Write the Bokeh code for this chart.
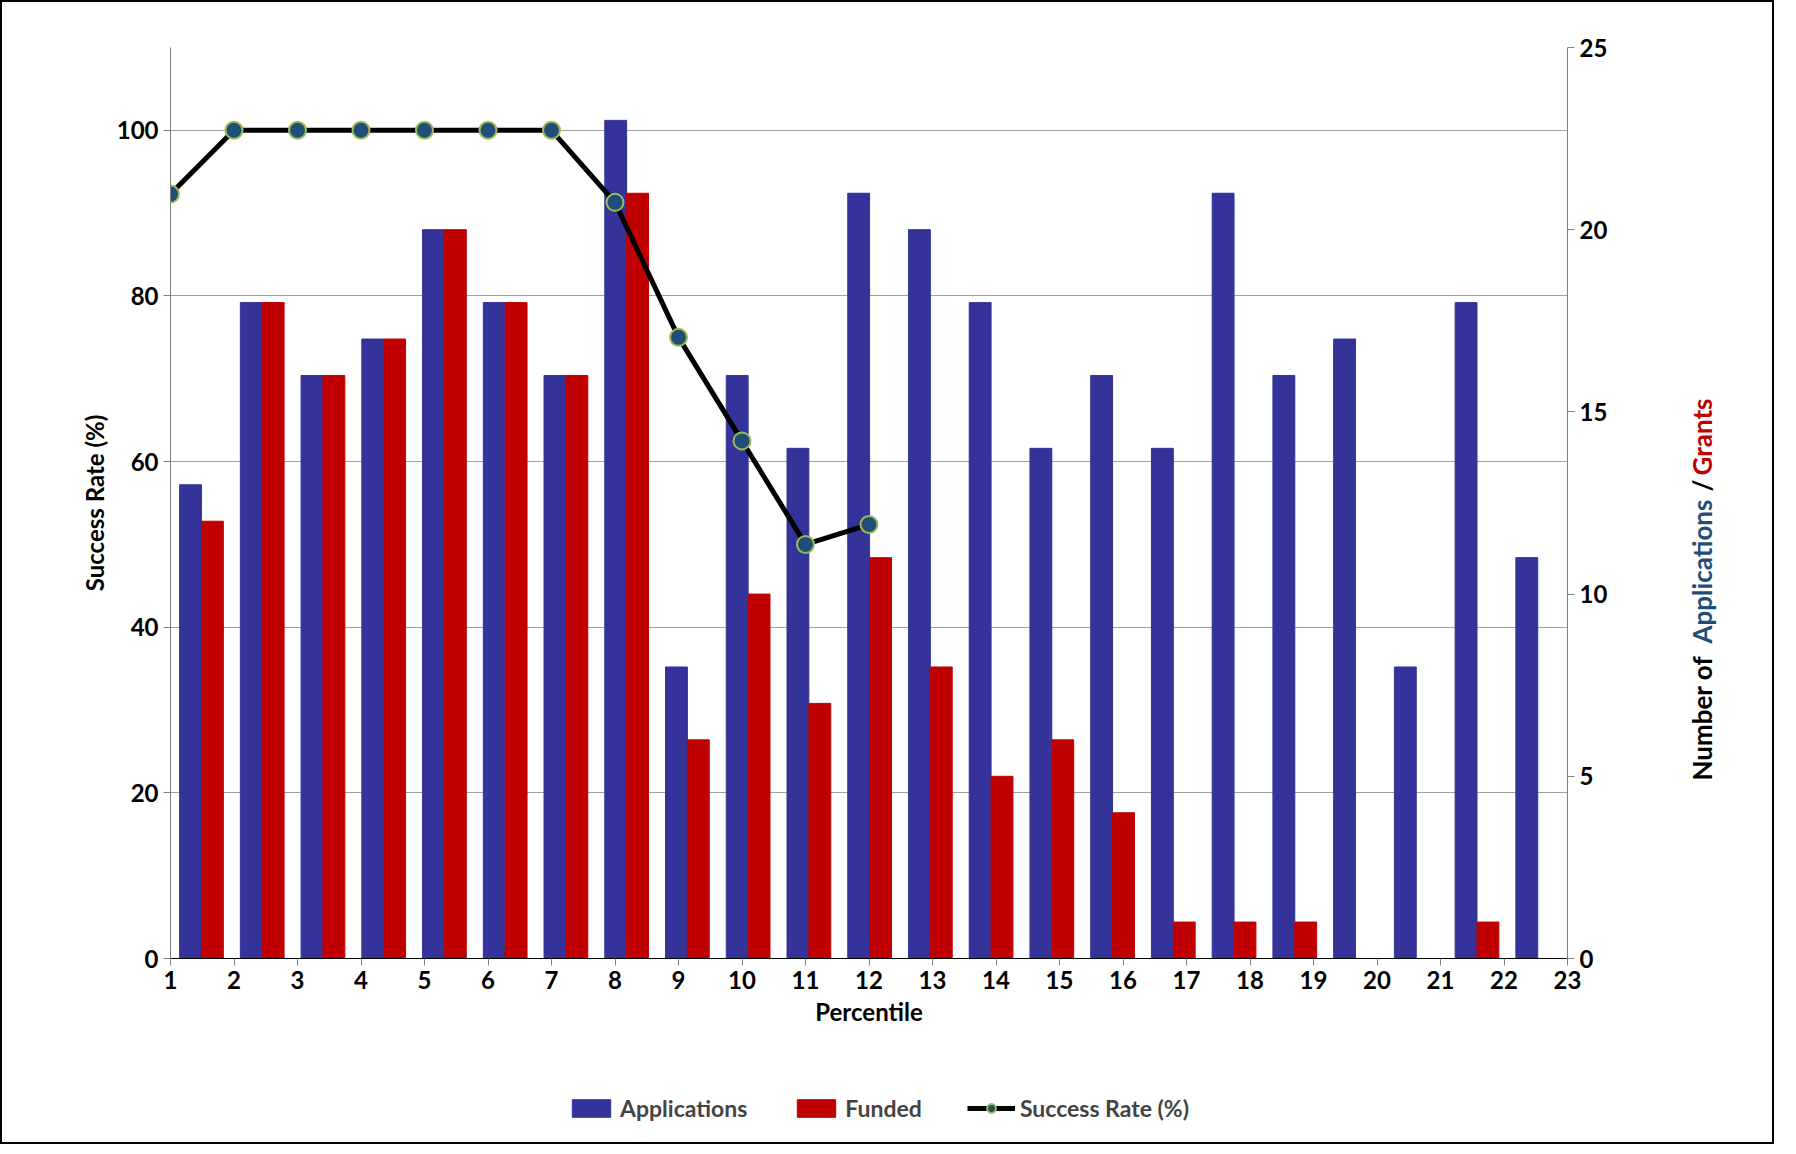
from bokeh.plotting import figure
from bokeh.models import Range1d, LinearAxis, Legend, LegendItem, Label, FixedTicker
from bokeh.layouts import row, column
from bokeh.embed import file_html
from bokeh.resources import INLINE

percentile_labels = list(range(1, 24))
applications = [13, 18, 16, 17, 20, 18, 16, 23, 8, 16, 14, 21, 20, 18, 14, 16, 14, 21, 16, 17, 8, 18, 11]
funded = [12, 18, 16, 17, 20, 18, 16, 21, 6, 10, 7, 11, 8, 5, 6, 4, 1, 1, 1, 0, 0, 1, 0]
rate_x = list(range(1, 13))
success_rate = [92.3, 100, 100, 100, 100, 100, 100, 91.3, 75, 62.5, 50, 52.4]

FONT = "Lato"
MH = 1055
p = figure(width=1670, height=MH, output_backend="svg", toolbar_location=None,
           x_range=Range1d(1, 23), y_range=Range1d(0, 110),
           min_border_left=168, min_border_right=105, min_border_top=45, min_border_bottom=99)
p.extra_y_ranges = {"cnt": Range1d(0, 25)}
p.outline_line_color = None
p.xgrid.grid_line_color = None
p.ygrid.grid_line_color = "#a0a0a0"
p.ygrid.ticker = FixedTicker(ticks=[20, 40, 60, 80, 100])

n = len(applications)
slot = 22 / n
xb = [1 + k * slot + 0.33 * slot for k in range(n)]
xr = [1 + k * slot + 0.69 * slot for k in range(n)]
p.vbar(x=xb, top=applications, width=0.36 * slot, bottom=0, color="#333399", y_range_name="cnt")
p.vbar(x=xr, top=funded, width=0.36 * slot, bottom=0, color="#C00000", y_range_name="cnt")
p.line(rate_x, success_rate, line_color="black", line_width=5)
p.scatter(rate_x, success_rate, size=17, fill_color="#1F4E79", line_color="#9BBB59", line_width=2)

def style(ax):
    ax.major_label_text_font = FONT
    ax.major_label_text_font_style = "bold"
    ax.major_label_text_font_size = "24px"
    ax.axis_label_text_font = FONT
    ax.axis_label_text_font_style = "bold"
    ax.axis_label_text_font_size = "24px"
    ax.axis_label_text_color = "black"
    ax.major_label_text_color = "black"
    ax.minor_tick_line_color = None
    ax.axis_line_color = "#808080"
    ax.major_tick_line_color = "#808080"
    ax.major_tick_in = 0
    ax.major_tick_out = 7

style(p.xaxis[0]); style(p.yaxis[0])
p.xaxis.ticker = FixedTicker(ticks=percentile_labels)
p.xaxis.axis_label = "Percentile"
p.xaxis.axis_line_color = "black"
p.yaxis.ticker = FixedTicker(ticks=[0, 20, 40, 60, 80, 100])
p.yaxis.axis_label = "Success Rate (%)"

ra = LinearAxis(y_range_name="cnt", ticker=FixedTicker(ticks=[0, 5, 10, 15, 20, 25]))
style(ra)
p.add_layout(ra, "right")

# right-hand multicoloured axis title
q = figure(width=100, height=MH, output_backend="svg", toolbar_location=None,
           x_range=Range1d(0, 1), y_range=Range1d(0, 1),
           min_border=0, outline_line_color=None)
q.axis.visible = False
q.grid.visible = False
for txt, col, py in [("Number of", "black", 782), ("Applications", "#1F4E79", 645),
                     ("/", "black", 493), ("Grants", "#C00000", 477)]:
    q.add_layout(Label(x=29, y=MH - (py - 10) - 105, x_units="screen", y_units="screen", text=txt,
                       angle=90, angle_units="deg", text_color=col, text_font=FONT,
                       text_font_style="bold", text_font_size="26px", text_baseline="middle"))

# legend strip
lg = figure(width=1770, height=85, output_backend="svg", toolbar_location=None,
            x_range=Range1d(0, 1), y_range=Range1d(0, 1),
            min_border=0, outline_line_color=None)
lg.axis.visible = False
lg.grid.visible = False
r1 = lg.vbar(x=[5], top=[1], width=0.1, color="#333399")
r2 = lg.vbar(x=[5], top=[1], width=0.1, color="#C00000")
r3 = lg.line(x=[5, 6], y=[5, 6], line_color="black", line_width=5)
r4 = lg.scatter(x=[5], y=[5], size=17, fill_color="#1F4E79", line_color="#9BBB59", line_width=2)
legend = Legend(items=[LegendItem(label="Applications", renderers=[r1]),
                       LegendItem(label="Funded", renderers=[r2]),
                       LegendItem(label="Success Rate (%)", renderers=[r3, r4])],
                orientation="horizontal", location=(565, 20), border_line_color=None,
                background_fill_alpha=0,
                label_text_font=FONT, label_text_font_style="bold", label_text_font_size="23px",
                glyph_width=48, glyph_height=22, spacing=45, margin=0, padding=0)
lg.add_layout(legend)

layout = column(row(p, q), lg, styles={"border": "2px solid black"})
open("out.html", "w").write(file_html(layout, INLINE))
